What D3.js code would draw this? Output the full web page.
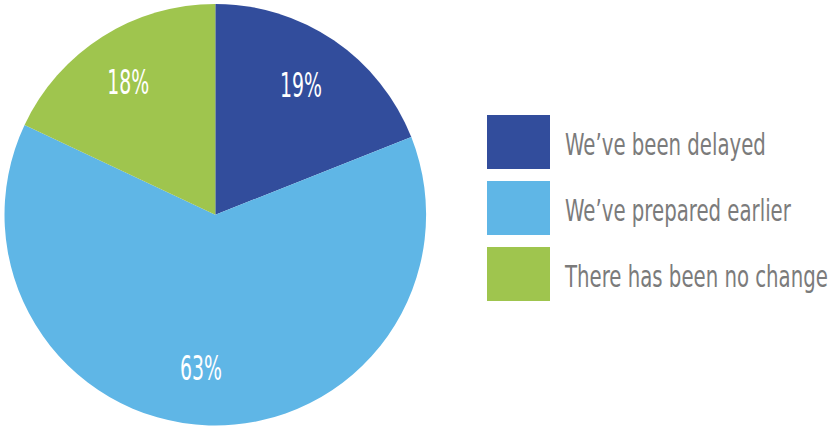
<!DOCTYPE html>
<html>
<head>
<meta charset="utf-8">
<script src="https://cdn.jsdelivr.net/npm/d3@7"></script>
<style>
  html, body { margin: 0; padding: 0; background: #ffffff; }
  svg { display: block; }
  text { font-family: "DejaVu Sans", sans-serif; }
</style>
</head>
<body>
<svg id="chart" width="830" height="426"></svg>
<script>
// Survey responses, clockwise from 12 o'clock
const categories = ["We\u2019ve been delayed", "We\u2019ve prepared earlier", "There has been no change"];
const values = [19, 63, 18];
const colors = ["#324d9c", "#5fb6e6", "#9fc54e"];

const svg = d3.select("#chart");
const cx = 215.3, cy = 214.7, radius = 210.8;

// Condensed look: glyphs are squeezed horizontally to a target width
function condense(sel, targetWidth) {
  const natural = sel.node().getComputedTextLength();
  return targetWidth / natural;
}

const pie = d3.pie().sort(null).value(d => d.value);
const arcs = pie(categories.map((c, i) => ({ name: c, value: values[i], color: colors[i] })));

const arc = d3.arc().innerRadius(0).outerRadius(radius);
const labelArc = d3.arc().innerRadius(155).outerRadius(155);
// small hand nudges so labels sit a touch left of the centroid
const labelNudge = [[-1.5, -1.5], [-9.5, -1.5], [-4, -1.5]];

const g = svg.append("g").attr("transform", `translate(${cx},${cy})`);

g.selectAll("path.slice")
  .data(arcs)
  .join("path")
  .attr("class", "slice")
  .attr("d", arc)
  .attr("fill", d => d.data.color);

// Percentage labels
const pctSize = 33;
const pct = g.selectAll("text.pct")
  .data(arcs)
  .join("text")
  .attr("class", "pct")
  .attr("text-anchor", "middle")
  .attr("fill", "#ffffff")
  .attr("font-size", pctSize)
  .text(d => d.data.value + "%");
const kPct = condense(pct.filter((d, i) => i === 0), 42);
pct.attr("transform", (d, i) => {
  const [x, y] = labelArc.centroid(d);
  const [nx, ny] = labelNudge[i];
  return `translate(${x + nx},${y + ny + pctSize * 0.729 / 2}) scale(${kPct},1)`;
});

// Legend
const legendScale = d3.scaleBand()
  .domain(categories)
  .range([115, 301])
  .paddingInner(0.182);

const items = svg.append("g").selectAll("g.item")
  .data(arcs)
  .join("g")
  .attr("class", "item")
  .attr("transform", d => `translate(487,${legendScale(d.data.name)})`);

items.append("rect")
  .attr("width", 63)
  .attr("height", legendScale.bandwidth())
  .attr("fill", d => d.data.color);

const legSize = 31;
const legText = items.append("text")
  .attr("fill", "#7b7b7b")
  .attr("font-size", legSize)
  .text(d => d.data.name);
const kLeg = condense(legText.filter((d, i) => i === 0), 201);
legText.attr("transform", `translate(78,${legendScale.bandwidth() / 2 + legSize * 0.729 / 2 + 1.5}) scale(${kLeg},1)`);
</script>
</body>
</html>
